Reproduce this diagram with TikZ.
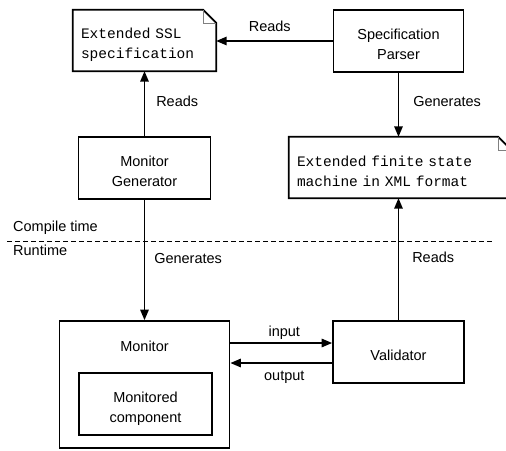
\documentclass[tikz,border=0pt]{standalone}
\usepackage{fontspec}
\setmainfont{Liberation Sans}
\setmonofont{Liberation Mono}[WordSpace={1,0,0}]
\usetikzlibrary{arrows.meta,calc}
\newcommand\topstrut{\rule{0pt}{20pt}}
\newcommand\botstrut{\rule[-3pt]{0pt}{3pt}}
\begin{document}
\begin{tikzpicture}[x=1pt,y=-1pt,
  every node/.style={font=\fontsize{14.5}{20}\selectfont},
  box/.style={draw, line width=1.8pt, inner sep=0pt, align=center},
  docbox/.style={inner xsep=8pt, inner ysep=0pt, align=left, text width=#1,
     font=\ttfamily\fontsize{14.5}{20}\selectfont},
  docline/.style={line width=1.8pt, line join=miter},
  fold/.style={line width=0.6pt, gray},
  arr/.style={line width=1.5pt, -{Triangle[length=10.5pt,width=8.5pt]}},
  lbl/.style={inner sep=0pt},
  sep/.style={line width=1.8pt, dash pattern=on 5pt off 3pt}
]
\useasboundingbox (0,0) rectangle (506,450);
\clip (0,0) rectangle (506,450);

% documents
\node[docbox=127pt, minimum width=143pt, minimum height=61pt] (ssl) at (144.5,40.5)
  {\topstrut Extended SSL\\specification\botstrut};
\node[docbox=206pt, minimum width=222pt, minimum height=61pt] (xml) at (400,167.5)
  {\topstrut Extended finite state\\machine in XML format\botstrut};
\foreach \d in {ssl,xml}{
  \draw[docline] (\d.south west) -- (\d.north west) -- ($(\d.north east)+(-13,0)$)
     -- ($(\d.north east)+(0,13)$) -- (\d.south east) -- cycle;
  \draw[fold] ($(\d.north east)+(-13,0)$) -- ($(\d.north east)+(-13,13)$) -- ($(\d.north east)+(0,13)$);
}

% boxes
\node[box, minimum width=130pt, minimum height=62pt] (parser) at (398.5,41)
  {\topstrut Specification\\Parser\botstrut};
\node[box, minimum width=132pt, minimum height=62pt] (gen) at (144.5,168)
  {\topstrut Monitor\\Generator\botstrut};
\node[box, minimum width=170pt, minimum height=127pt,
  label={[lbl, anchor=north, yshift=-10.7pt]north:{\topstrut Monitor\botstrut}}] (monitor) at (144.5,384.5) {};
\node[box, minimum width=133pt, minimum height=62pt] (comp) at (145.5,404)
  {\topstrut Monitored\\component\botstrut};
\node[box, minimum width=131pt, minimum height=62pt] (validator) at (398.5,352)
  {\topstrut Validator\botstrut};

% separator
\coordinate (dl) at (7,241.5);
\coordinate (dr) at (493,241.5);
\draw[sep] (dl) -- (dr);
\node[lbl, anchor=base west] (ct) at (13,231.7) {Compile time};
\node[lbl, anchor=base west] (rt) at (13,255.7) {Runtime};

% connectors
\draw[arr] (gen.north) -- (ssl.south)
  node[lbl, pos=0.45, anchor=base west, xshift=11pt] {Reads};
\draw[arr] (parser.west) -- (parser.west -| ssl.east)
  node[lbl, pos=0.54, anchor=base, yshift=9.7pt] {Reads};
\draw[arr] (parser.south) -- (parser.south |- xml.north)
  node[lbl, pos=0.52, anchor=base west, xshift=14pt] {Generates};
\draw[arr] (gen.south) -- (monitor.north)
  node[lbl, pos=0.53, anchor=base west, xshift=9pt] {Generates};
\draw[arr] (validator.north) -- (validator.north |- xml.south)
  node[lbl, pos=0.47, anchor=base west, xshift=13pt] {Reads};
\coordinate (in1) at ($(validator.west)+(0,-9)$);
\coordinate (out1) at ($(validator.west)+(0,11)$);
\draw[arr] (in1 -| monitor.east) -- (in1)
  node[lbl, pos=0.53, anchor=base, yshift=7pt] {input};
\draw[arr] (out1) -- (out1 -| monitor.east)
  node[lbl, pos=0.47, anchor=base, yshift=-17pt] {output};
\end{tikzpicture}
\end{document}
